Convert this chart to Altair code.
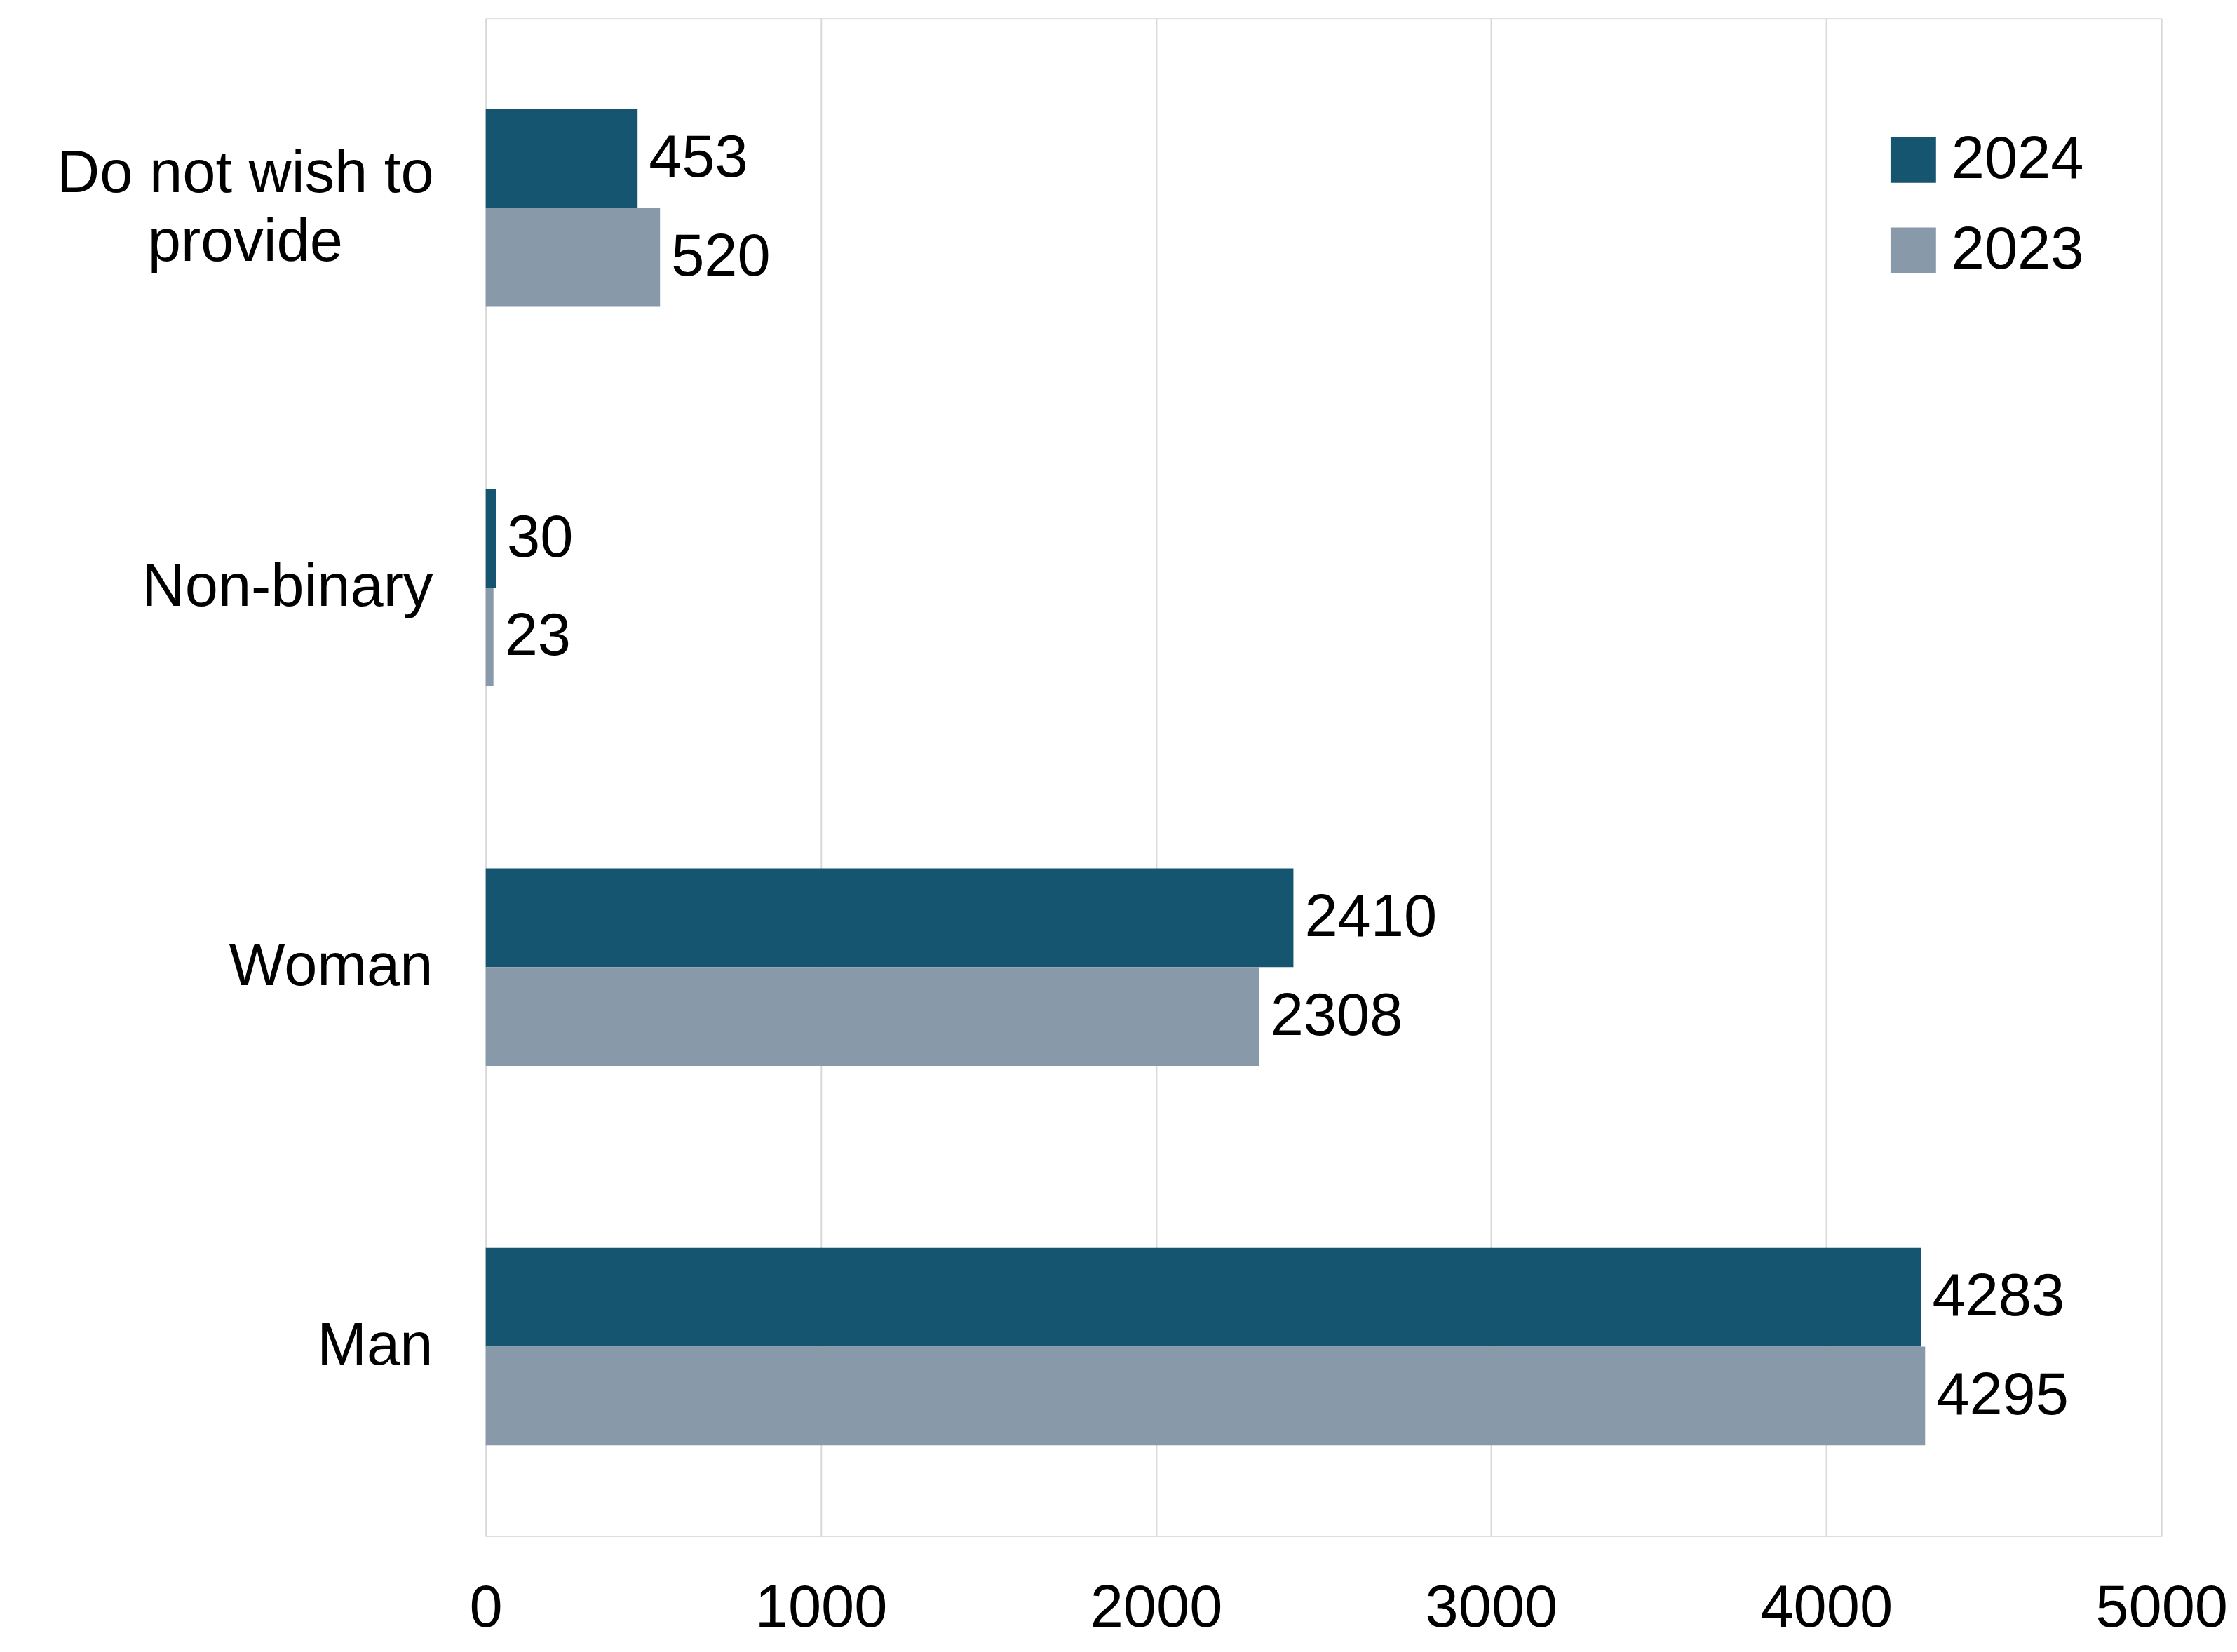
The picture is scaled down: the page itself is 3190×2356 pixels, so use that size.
import altair as alt
import pandas as pd

categories = ["Do not wish to provide", "Non-binary", "Woman", "Man"]
values_2024 = [453, 30, 2410, 4283]
values_2023 = [520, 23, 2308, 4295]
years = ["2024", "2023"]
colors = ["#15556f", "#8899aa"]

rows = []
for c, v24, v23 in zip(categories, values_2024, values_2023):
    rows.append({"category": c, "year": "2024", "value": v24})
    rows.append({"category": c, "year": "2023", "value": v23})
df = pd.DataFrame(rows)

FONT = "Liberation Sans"
FS = 85
TEST = "datum.value == 'Do not wish to provide'"

y_enc = alt.Y(
    "category:N",
    sort=categories,
    scale=alt.Scale(paddingInner=0.48, paddingOuter=0.24),
    axis=alt.Axis(
        title=None,
        domain=False,
        ticks=False,
        tickSize=0,
        labelFont=FONT,
        labelFontSize=FS,
        labelColor="#000000",
        labelLimit=2000,
        labelLineHeight=98,
        labelBaseline="middle",
        labelExpr="datum.value == 'Do not wish to provide' ? ['Do not wish to', 'provide'] : datum.value",
        labelAlign={"condition": {"test": TEST, "value": "center"}, "value": "right"},
        labelPadding={"condition": {"test": TEST, "value": 344}, "value": 76},
        labelOffset={"condition": {"test": TEST, "value": -49}, "value": 0},
    ),
)

x_enc = alt.X(
    "value:Q",
    scale=alt.Scale(domain=[0, 5000], nice=False),
    axis=alt.Axis(
        title=None,
        values=[0, 1000, 2000, 3000, 4000, 5000],
        format="d",
        domain=False,
        ticks=False,
        tickSize=0,
        grid=True,
        gridColor="#d9d9d9",
        gridWidth=2,
        labelFont=FONT,
        labelFontSize=FS,
        labelColor="#000000",
        labelLimit=2000,
        labelPadding=62,
        labelFlush=False,
        labelOverlap=False,
    ),
)

yoff = alt.YOffset("year:N", sort=years)

bars = alt.Chart(df).mark_bar().encode(
    y=y_enc,
    x=x_enc,
    yOffset=yoff,
    color=alt.Color(
        "year:N",
        sort=years,
        scale=alt.Scale(domain=years, range=colors),
        legend=alt.Legend(
            title=None,
            orient="none",
            legendX=1997,
            legendY=160,
            symbolType="square",
            symbolSize=4225,
            symbolStrokeWidth=0,
            symbolOpacity=1,
            labelFont=FONT,
            labelFontSize=FS,
            labelColor="#000000",
            labelLimit=2000,
            labelOffset=12,
            rowPadding=43,
        ),
    ),
)

labels = alt.Chart(df).mark_text(
    align="left", baseline="middle", dx=16, font=FONT, fontSize=FS, color="#000000"
).encode(
    y=alt.Y("category:N", sort=categories),
    x=alt.X("value:Q"),
    yOffset=yoff,
    text=alt.Text("value:Q", format="d"),
)

chart = alt.layer(bars, labels).properties(
    width=2394,
    height=2169,
    autosize=alt.AutoSizeParams(type="none"),
    padding={"left": 686, "top": 16, "right": 100, "bottom": 150},
).configure_view(stroke=None).configure(background="#ffffff")

chart.save("out.html", embed_options={"renderer": "svg", "actions": False})
